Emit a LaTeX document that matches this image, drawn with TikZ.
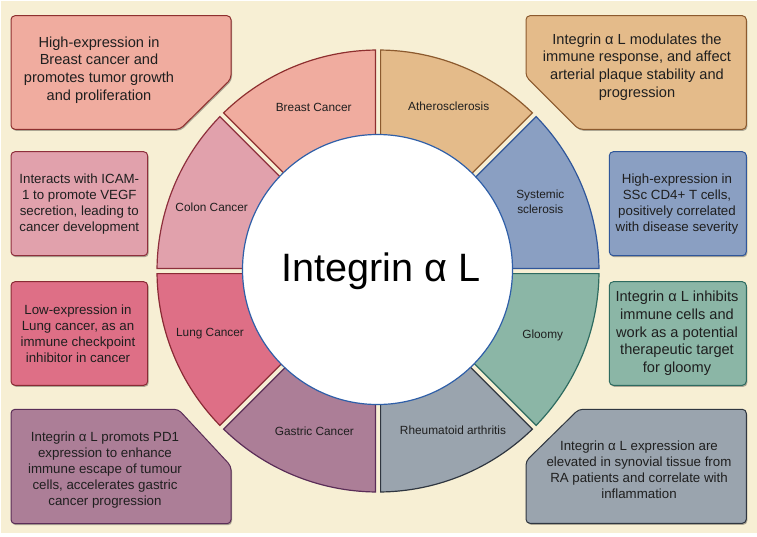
\documentclass[tikz,border=0pt]{standalone}
\usepackage{fontspec}
\setmainfont{Liberation Sans}
\usetikzlibrary{shadows}
\definecolor{bg}{HTML}{F7EFD4}
\definecolor{athF}{HTML}{E4BB8A}\definecolor{athD}{HTML}{8C5A2E}
\definecolor{brF}{HTML}{F0AC9F}\definecolor{brD}{HTML}{8E2F2F}
\definecolor{coF}{HTML}{E1A1AC}\definecolor{coD}{HTML}{8E2F3C}
\definecolor{luF}{HTML}{DE6F86}\definecolor{luD}{HTML}{8A2A35}
\definecolor{gaF}{HTML}{AC7E97}\definecolor{gaD}{HTML}{5A2D57}
\definecolor{rhF}{HTML}{9AA4AE}\definecolor{rhD}{HTML}{2F3640}
\definecolor{glF}{HTML}{8BB6A6}\definecolor{glD}{HTML}{2E6B60}
\definecolor{syF}{HTML}{8A9FC2}\definecolor{syD}{HTML}{2F569A}
\definecolor{circD}{HTML}{2F5FA8}
\tikzset{
  boxshape/.style={line width=1pt, rounded corners=4pt,
    drop shadow={shadow xshift=1pt, shadow yshift=-1.5pt, opacity=0.3, fill=black}},
  bigtext/.style={font=\fontsize{14.6}{17.7}\selectfont, align=center, text=black!88},
  smalltext/.style={font=\fontsize{13.3}{16}\selectfont, align=center, text=black!88},
  seclabel/.style={font=\fontsize{11.85}{15}\selectfont, align=center, text=black!88},
  sector/.style={line width=1.2pt},
}
\begin{document}
\begin{tikzpicture}[x=1pt,y=1pt]
\useasboundingbox (0,0) rectangle (757,-536);
\fill[white] (0,0) rectangle (757,-536);
\fill[bg] (0.5,-0.5) rectangle (756.5,-532.5);

% ring sectors
\begin{scope}[shift={(378,-271)}]
\pgfmathsetmacro\Rout{221}
\pgfmathsetmacro\Rin{120}
\pgfmathsetmacro\gapw{2.6}
\pgfmathsetmacro\dOut{asin(\gapw/\Rout)}
\pgfmathsetmacro\dIn{asin(\gapw/\Rin)}
\foreach \a/\f/\d in {0/syF/syD, 45/athF/athD, 90/brF/brD, 135/coF/coD, 180/luF/luD, 225/gaF/gaD, 270/rhF/rhD, 315/glF/glD}{
  \pgfmathsetmacro\sa{\a+\dOut}
  \pgfmathsetmacro\ea{\a+45-\dOut}
  \pgfmathsetmacro\sb{\a+45-\dIn}
  \pgfmathsetmacro\eb{\a+\dIn}
  \filldraw[sector, fill=\f, draw=\d] (\sa:\Rout pt) arc[start angle=\sa, end angle=\ea, radius=\Rout pt]
    -- (\sb:\Rin pt) arc[start angle=\sb, end angle=\eb, radius=\Rin pt] -- cycle;
}
\end{scope}

% centre circle
\filldraw[fill=white, draw=circD, line width=1.2pt] (377.5,-269.5) circle[radius=135pt];
\node[font=\fontsize{39.6}{44}\selectfont, anchor=base, text=black] (title) at (381,-281.7) {Integrin α L};

% sector labels
\node[seclabel] (lbBreast) at (313.7,-107.3) {Breast Cancer};
\node[seclabel] (lbAthero) at (448.7,-106.7) {Atherosclerosis};
\node[seclabel] (lbColon) at (211.7,-207.3) {Colon Cancer};
\node[seclabel] (lbSys) at (540.3,-201.7) {Systemic\\sclerosis};
\node[seclabel] (lbLung) at (210,-333.7) {Lung Cancer};
\node[seclabel] (lbGloomy) at (542.7,-335) {Gloomy};
\node[seclabel] (lbGastric) at (314.3,-431) {Gastric Cancer};
\node[seclabel] (lbRheum) at (453,-430) {Rheumatoid arthritis};

% boxes
\filldraw[boxshape, fill=brF, draw=brD] (11,-15.7) -- (231,-15.7) -- (231,-79) -- (180,-129.3) -- (11,-129.3) -- cycle;
\filldraw[boxshape, fill=coF, draw=coD] (11,-151.7) rectangle (147.7,-255.7);
\filldraw[boxshape, fill=luF, draw=luD] (11,-281.7) rectangle (147.7,-385.3);
\filldraw[boxshape, fill=gaF, draw=gaD] (11,-409.3) -- (178.3,-409.3) -- (231,-466) -- (231,-523.7) -- (11,-523.7) -- cycle;
\filldraw[boxshape, fill=athF, draw=athD] (526,-15.7) -- (746.3,-15.7) -- (746.3,-129.3) -- (578.7,-129.3) -- (526,-76.7) -- cycle;
\filldraw[boxshape, fill=syF, draw=syD] (609.3,-151.7) rectangle (746.3,-255.7);
\filldraw[boxshape, fill=glF, draw=glD] (609.3,-281.7) rectangle (746.3,-385.3);
\filldraw[boxshape, fill=rhF, draw=rhD] (578.7,-409.3) -- (746.3,-409.3) -- (746.3,-523.3) -- (526,-523.3) -- (526,-461) -- cycle;

% box texts
\node[bigtext] (txBreast) at (99,-70) {High-expression in\\Breast cancer and\\promotes tumor growth\\and proliferation};
\node[smalltext] (txColon) at (79.3,-204) {Interacts with ICAM-\\1 to promote VEGF\\secretion, leading to\\cancer development};
\node[smalltext] (txLung) at (78,-333.8) {Low-expression in\\Lung cancer, as an\\immune checkpoint\\inhibitor in cancer};
\node[smalltext] (txGastric) at (105,-469.7) {Integrin α L promots PD1\\expression to enhance\\immune escape of tumour\\cells, accelerates gastric\\cancer progression};
\node[bigtext] (txAthero) at (637,-67) {Integrin α L modulates the\\immune response, and affect\\arterial plaque stability and\\progression};
\node[smalltext] (txSys) at (677,-204) {High-expression in\\SSc CD4+ T cells,\\positively correlated\\with disease severity};
\node[bigtext] (txGloomy) at (677,-333.5) {Integrin α L inhibits\\immune cells and\\work as a potential\\therapeutic target\\for gloomy};
\node[smalltext] (txRheum) at (639,-470) {Integrin α L expression are\\elevated in synovial tissue from\\RA patients and correlate with\\inflammation};
\end{tikzpicture}
\end{document}
